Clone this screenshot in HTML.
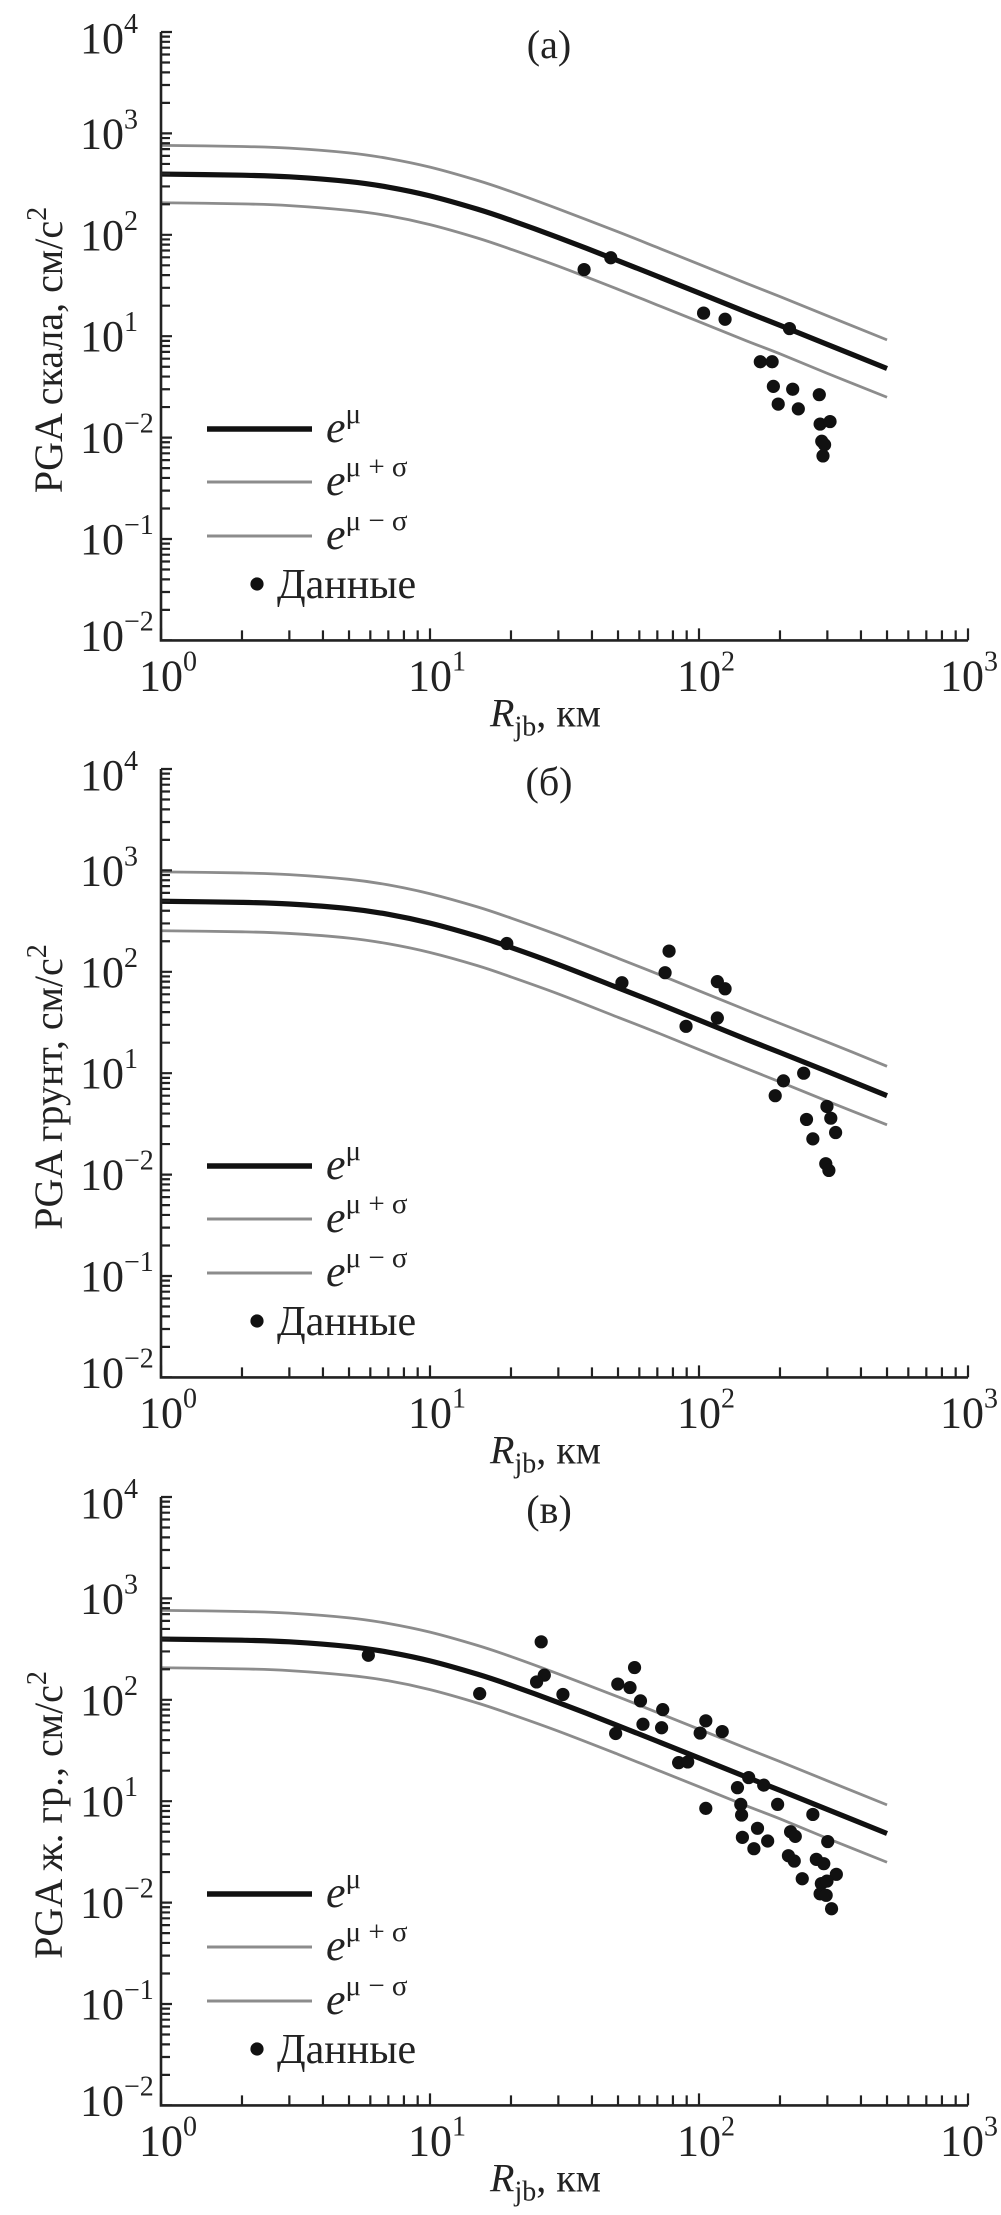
<!DOCTYPE html>
<html><head><meta charset="utf-8"><style>
html,body{margin:0;padding:0;background:#fff;}
svg{display:block;font-family:"Liberation Serif","DejaVu Serif",serif;}
</style></head><body>
<svg id="fig" width="1001" height="2215" viewBox="0 0 1001 2215" xmlns="http://www.w3.org/2000/svg"></svg>
<script>
// Shared axis data
const yTickExps = [4, 3, 2, 1, 0, -1, -2];
const yTickLabels = ["4", "3", "2", "1", "\u22122", "\u22121", "\u22122"];
const xTickExps = [0, 1, 2, 3];
const xTickLabels = ["0", "1", "2", "3"];
const curveR = [1,2,3,5,7,10,15,20,30,50,70,100,150,200,300,500];

// Panel (a)
const aMean  = [397,387,373,335,295,242,179,139,94,55.6,39,26.7,17.3,12.8,8.3,4.8];
const aUpper = [762,743,716,643,566,465,344,267,180,107,75,51.3,33.2,24.6,15.9,9.2];
const aLower = [207,202,194,174,154,126,93,72,49,29,20.3,13.9,9.0,6.7,4.3,2.5];
const aDataR = [37.4,47,104,125,217,169,187,189,223,197,234,280,282,307,286,293,289];
const aDataV = [45.4,59.4,16.9,14.7,11.9,5.6,5.6,3.2,3.0,2.14,1.92,2.65,1.36,1.44,0.92,0.85,0.66];

// Panel (б)
const bMean  = [496,484,466,419,369,302,224,174,118,69.5,49,33.4,21.6,16,10.4,6.0];
const bUpper = [967,944,909,817,720,589,437,339,230,136,95.5,65,42,31,20.3,11.7];
const bLower = [254,248,239,215,189,155,115,89,60.5,35.6,25.1,17.1,11.1,8.2,5.3,3.1];
const bDataR = [19.3,51.7,77.4,74.8,117,125,117,89.5,245,206,192,299,309,251,322,265,296,304];
const bDataV = [190,78,160,98,80,68,35,29,10,8.4,6.0,4.7,3.6,3.5,2.6,2.25,1.28,1.10];

// Panel (в)
const cMean  = [397,387,373,335,295,242,179,139,94,55.6,39,26.7,17.3,12.8,8.3,4.8];
const cUpper = [762,743,716,643,566,465,344,267,180,107,75,51.3,33.2,24.6,15.9,9.2];
const cLower = [207,202,194,174,154,126,93,72,49,29,20.3,13.9,9.0,6.7,4.3,2.5];
const cDataR = [5.9,15.3,25.9,26.6,24.9,31.2,57.6,49.9,55.4,60.6,73.3,61.9,72.6,49,106,101,122,84,90.8,106,153,174,139,143,144,196,265,165,145,180,160,219,228,301,215,226,273,291,324,242,285,299,282,297,311];
const cDataV = [275,115,373,175,150,113,208,143,132,97.6,80,57.4,53,46.5,62,47,48.6,24,24.4,8.5,17.1,14.4,13.6,9.3,7.3,9.3,7.4,5.4,4.4,4.05,3.4,5.0,4.5,4.0,2.9,2.57,2.67,2.42,1.90,1.72,1.54,1.63,1.22,1.18,0.87];

const NS = "http://www.w3.org/2000/svg";
const svg = document.getElementById("fig");
const X0 = 161, XDEC = 269, YDEC = 101.4;

function mk(tag, attrs, parent) {
  const e = document.createElementNS(NS, tag);
  for (const k in attrs) e.setAttribute(k, attrs[k]);
  (parent || svg).appendChild(e);
  return e;
}

function smoothPath(pts) {
  let d = "M" + pts[0][0].toFixed(2) + "," + pts[0][1].toFixed(2);
  for (let i = 0; i < pts.length - 1; i++) {
    const p0 = pts[Math.max(0, i - 1)], p1 = pts[i], p2 = pts[i + 1], p3 = pts[Math.min(pts.length - 1, i + 2)];
    const c1x = p1[0] + (p2[0] - p0[0]) / 6, c1y = p1[1] + (p2[1] - p0[1]) / 6;
    const c2x = p2[0] - (p3[0] - p1[0]) / 6, c2y = p2[1] - (p3[1] - p1[1]) / 6;
    d += " C" + c1x.toFixed(2) + "," + c1y.toFixed(2) + " " + c2x.toFixed(2) + "," + c2y.toFixed(2) + " " + p2[0].toFixed(2) + "," + p2[1].toFixed(2);
  }
  return d;
}

function drawPanel(id, top, title, ylabel, mean, upper, lower, dR, dV) {
  const bottom = top + 6 * YDEC;
  const g = mk("g", {});
  
  
  const xs = r => X0 + Math.log10(r) * XDEC;
  const ys = v => bottom - (Math.log10(v) + 2) * YDEC;

  const series = [[upper, "#8c8c8c", 2.8, "upper-curve"], [lower, "#8c8c8c", 2.8, "lower-curve"], [mean, "#111", 5.2, "mean-curve"]];
  series.forEach(s => {
    const pts = curveR.map((r, i) => [xs(r), ys(s[0][i])]);
    const p = mk("path", {d: smoothPath(pts), fill: "none", stroke: s[1], "stroke-width": s[2]}, g);
    
    
  });
  dR.forEach((r, i) => {
    const c = mk("circle", {cx: xs(r), cy: ys(dV[i]), r: 6.6, fill: "#111"}, g);
    
    
  });

  const ax = mk("path", {d: "M" + X0 + "," + top + " V" + bottom + " H" + (X0 + 3 * XDEC), fill: "none", stroke: "#222", "stroke-width": 2.6}, g);
  
  
  let tk = "";
  for (let e = -2; e < 4; e++) for (let m = 2; m <= 9; m++) {
    const y = ys(m * Math.pow(10, e)); tk += "M" + X0 + "," + y.toFixed(2) + " h9 ";
  }
  yTickExps.forEach(e => { const y = ys(Math.pow(10, e)); tk += "M" + X0 + "," + y.toFixed(2) + " h11 "; });
  for (let e = 0; e < 3; e++) for (let m = 2; m <= 9; m++) {
    const x = xs(m * Math.pow(10, e)); tk += "M" + x.toFixed(2) + "," + bottom + " v-10 ";
  }
  xTickExps.forEach(e => { const x = xs(Math.pow(10, e)); tk += "M" + x.toFixed(2) + "," + bottom + " v-12 "; });
  const tp = mk("path", {d: tk, stroke: "#222", "stroke-width": 2.2, fill: "none"}, g);
  
  

  yTickExps.forEach((e, i) => {
    let y = ys(Math.pow(10, e)) + 15;
    if (i === 0) y += 6;
    if (i === yTickExps.length - 1) y -= 5;
    const t = mk("text", {x: 124, y: y, "font-size": 44, "text-anchor": "end", fill: "#222"}, g);
    
    
    t.textContent = "10";
    const s = mk("text", {x: 124, y: y - 20, "font-size": 28, fill: "#222"}, g);
    
    
    s.textContent = yTickLabels[i];
  });
  xTickExps.forEach((e, i) => {
    let x = xs(Math.pow(10, e));
    if (i === xTickExps.length - 1) x -= 6;
    const t = mk("text", {x: x, y: bottom + 50, "font-size": 44, "text-anchor": "middle", fill: "#222"}, g);
    
    
    t.textContent = "10";
    const s = mk("text", {x: x + 22, y: bottom + 30, "font-size": 28, fill: "#222"}, g);
    
    
    s.textContent = xTickLabels[i];
  });
  const xt = mk("text", {x: 490, y: bottom + 86, "font-size": 40, fill: "#222"}, g);
  
  
  xt.innerHTML = '<tspan font-style="italic">R</tspan><tspan font-size="28" dy="9">jb</tspan><tspan dy="-9">, км</tspan>';
  const yt = mk("text", {x: 0, y: 0, "font-size": 40, "text-anchor": "middle", fill: "#222", transform: "translate(62," + (top + 318) + ") rotate(-90)"}, g);
  
  
  yt.innerHTML = ylabel + '<tspan font-size="28" dy="-16">2</tspan>';
  const pt = mk("text", {x: 549, y: top + 26, "font-size": 40, "text-anchor": "middle", fill: "#222"}, g);
  
  
  pt.textContent = title;

  const lg = mk("g", {}, g);
  
  
  const rows = [[397, "#111", 5.5, "", "legend-mean"], [450, "#8c8c8c", 3, " + σ", "legend-upper"], [504, "#8c8c8c", 3, " − σ", "legend-lower"]];
  rows.forEach(r => {
    const ln = mk("line", {x1: 207, x2: 312, y1: top + r[0], y2: top + r[0], stroke: r[1], "stroke-width": r[2]}, lg);
    
    
    const t = mk("text", {x: 326, y: top + r[0] + 13, "font-size": 44, fill: "#222"}, lg);
    
    
    t.innerHTML = '<tspan font-style="italic">e</tspan><tspan font-size="29" dy="-19">μ' + r[3] + '</tspan>';
  });
  const ld = mk("circle", {cx: 257, cy: top + 552, r: 6.6, fill: "#111"}, lg);
  
  
  const lt = mk("text", {x: 277, y: top + 566, "font-size": 42, fill: "#222"}, lg);
  
  
  lt.textContent = "Данные";
}

drawPanel("a", 32, "(a)", "PGA скала, см/с", aMean, aUpper, aLower, aDataR, aDataV);
drawPanel("b", 769, "(б)", "PGA грунт, см/с", bMean, bUpper, bLower, bDataR, bDataV);
drawPanel("c", 1497, "(в)", "PGA ж. гр., см/с", cMean, cUpper, cLower, cDataR, cDataV);
</script>
</body></html>
